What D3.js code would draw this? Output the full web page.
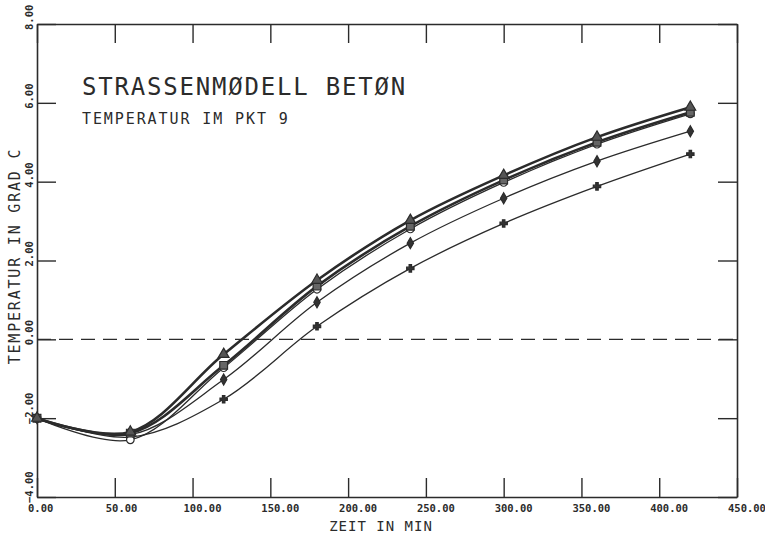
<!DOCTYPE html>
<html>
<head>
<meta charset="utf-8">
<script src="https://cdn.jsdelivr.net/npm/d3@7"></script>
<style>
  html, body { margin: 0; padding: 0; background: #fff; }
  svg { display: block; }
</style>
</head>
<body>
<svg id="chart" width="765" height="533"></svg>
<script>
// ---- data ----
const times = [0, 60, 120, 180, 240, 300, 360, 420];
const seriesNames = ["triangle", "square", "circle", "diamond", "plus"];
const triangleValues = [-2.0, -2.35, -0.38, 1.50, 3.02, 4.16, 5.13, 5.89];
const squareValues   = [-2.0, -2.38, -0.66, 1.35, 2.87, 4.04, 5.00, 5.76];
const circleValues   = [-2.0, -2.55, -0.72, 1.27, 2.80, 3.98, 4.95, 5.72];
const diamondValues  = [-2.0, -2.42, -1.02, 0.94, 2.44, 3.58, 4.52, 5.28];
const plusValues     = [-2.0, -2.48, -1.52, 0.33, 1.80, 2.94, 3.88, 4.70];
const xTicks = [0, 50, 100, 150, 200, 250, 300, 350, 400, 450];
const yTicks = [-4, -2, 0, 2, 4, 6, 8];
const title = "STRASSENMØDELL BETØN";
const subtitle = "TEMPERATUR IM PKT 9";
const xLabel = "ZEIT IN MIN";
const yLabel = "TEMPERATUR IN GRAD C";

const seriesValues = [triangleValues, squareValues, circleValues, diamondValues, plusValues];

// ---- layout ----
const svg = d3.select("#chart");
const L = 37, R = 737, T = 24, B = 497;
const x = d3.scaleLinear().domain([0, 450]).range([L, R]);
const y = d3.scaleLinear().domain([-4, 8]).range([B, T]);
const ink = "#2b2b2b";
const mono = "'DejaVu Sans Mono', 'Liberation Mono', monospace";

// frame axes (ticks pointing inward)
const tickLen = 19;
function styleAxis(g) {
  g.selectAll("path.domain").attr("stroke", ink).attr("stroke-width", 1.6);
  g.selectAll(".tick line").attr("stroke", ink).attr("stroke-width", 1.4);
  g.selectAll(".tick text").remove();
}
svg.append("g").attr("transform", `translate(0,${B})`)
  .call(d3.axisBottom(x).tickValues(xTicks).tickSize(-tickLen).tickSizeOuter(0).tickFormat(""))
  .call(styleAxis);
svg.append("g").attr("transform", `translate(0,${T})`)
  .call(d3.axisTop(x).tickValues(xTicks).tickSize(-tickLen).tickSizeOuter(0).tickFormat(""))
  .call(styleAxis);
svg.append("g").attr("transform", `translate(${L},0)`)
  .call(d3.axisLeft(y).tickValues(yTicks).tickSize(-tickLen).tickSizeOuter(0).tickFormat(""))
  .call(styleAxis);
svg.append("g").attr("transform", `translate(${R},0)`)
  .call(d3.axisRight(y).tickValues(yTicks).tickSize(-tickLen).tickSizeOuter(0).tickFormat(""))
  .call(styleAxis);

// tick labels
const fmt = d3.format(".2f");
svg.append("g").selectAll("text").data(xTicks).join("text")
  .attr("x", d => x(d) - 9).attr("y", 512)
  .attr("font-family", mono).attr("font-size", 10.5).attr("font-weight", "bold")
  .attr("fill", ink).text(d => fmt(d));
svg.append("g").selectAll("text").data(yTicks).join("text")
  .attr("transform", d => `translate(33,${y(d) + 6}) rotate(-90)`)
  .attr("font-family", mono).attr("font-size", 10.5).attr("font-weight", "bold")
  .attr("fill", ink).text(d => fmt(d));

// axis titles
svg.append("text").attr("x", 381).attr("y", 531).attr("text-anchor", "middle")
  .attr("font-family", mono).attr("font-size", 14).attr("letter-spacing", 1.0)
  .attr("fill", ink).text(xLabel);
svg.append("text").attr("transform", "translate(20,256) rotate(-90)").attr("text-anchor", "middle")
  .attr("font-family", mono).attr("font-size", 15).attr("letter-spacing", 1.8)
  .attr("fill", ink).text(yLabel);

// titles
svg.append("text").attr("x", 82).attr("y", 95)
  .attr("font-family", mono).attr("font-size", 24).attr("letter-spacing", 1.8)
  .attr("fill", ink).text(title);
svg.append("text").attr("x", 82).attr("y", 124)
  .attr("font-family", mono).attr("font-size", 15).attr("letter-spacing", 1.9)
  .attr("fill", ink).text(subtitle);

// zero dashed line
svg.append("line").attr("x1", L).attr("x2", R).attr("y1", y(0)).attr("y2", y(0))
  .attr("stroke", ink).attr("stroke-width", 1.2).attr("stroke-dasharray", "14 8");

// lines
const line = d3.line().x((d, i) => x(times[i])).y(d => y(d)).curve(d3.curveCatmullRom.alpha(0.5));
const widths = { triangle: 2.6, square: 2.6, circle: 1.3, diamond: 1.3, plus: 1.3 };
const order = [4, 3, 2, 1, 0];
order.forEach(k => {
  svg.append("path").attr("d", line(seriesValues[k]))
    .attr("fill", "none").attr("stroke", ink)
    .attr("stroke-width", widths[seriesNames[k]]);
});

// markers
const symbols = {
  triangle: { type: d3.symbolTriangle, size: 50, fill: "#555", stroke: ink },
  square:   { type: d3.symbolSquare,   size: 60, fill: "#666", stroke: ink },
  circle:   { type: d3.symbolCircle,   size: 45, fill: "#fff", stroke: ink },
  diamond:  { type: d3.symbolDiamond,  size: 35, fill: "#333", stroke: ink },
  plus:     { type: d3.symbolCross,    size: 30, fill: "#333", stroke: ink }
};
order.forEach(k => {
  const name = seriesNames[k];
  const s = symbols[name];
  svg.append("g").selectAll("path").data(seriesValues[k]).join("path")
    .attr("transform", (d, i) => `translate(${x(times[i])},${y(d)})`)
    .attr("d", d3.symbol().type(s.type).size(s.size))
    .attr("fill", s.fill).attr("stroke", s.stroke).attr("stroke-width", 1.2);
});
</script>
</body>
</html>
